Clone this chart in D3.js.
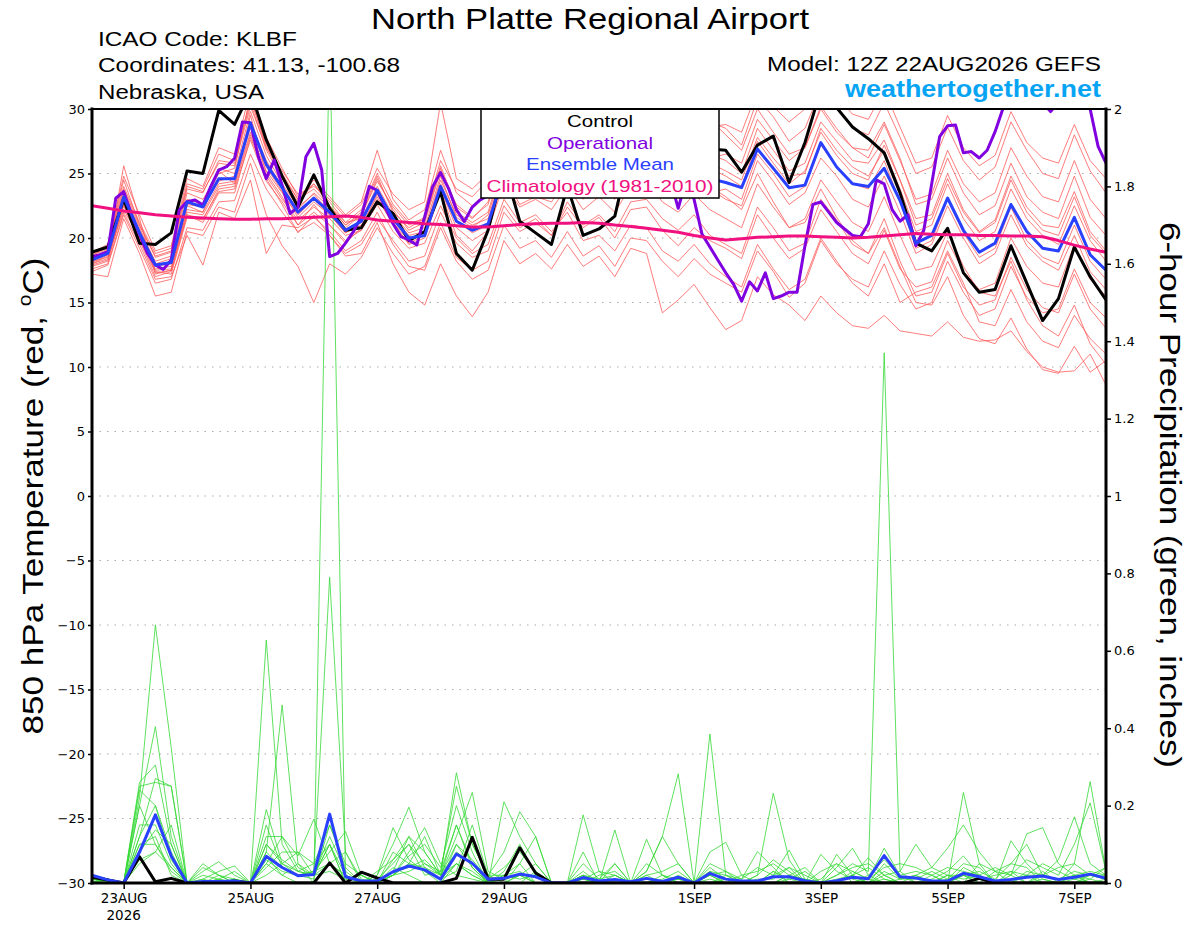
<!DOCTYPE html>
<html>
<head>
<meta charset="utf-8">
<script src="https://cdn.jsdelivr.net/npm/d3@7"></script>
<style>
  body { margin: 0; background: #fff; }
  svg { font-family: "Liberation Sans", Arial, sans-serif; }
</style>
</head>
<body>
<div id="svgcontainer"></div>
<script>
var stationTitle = "North Platte Regional Airport";
var infoLines = ["ICAO Code: KLBF", "Coordinates: 41.13, -100.68", "Nebraska, USA"];
var modelLine = "Model: 12Z 22AUG2026 GEFS";
var legendLabels = ["Control", "Operational", "Ensemble Mean", "Climatology (1981-2010)"];

var tempTicks = [-30, -25, -20, -15, -10, -5, 0, 5, 10, 15, 20, 25, 30];
var precipTicks = [0, 0.2, 0.4, 0.6, 0.8, 1, 1.2, 1.4, 1.6, 1.8, 2];
var dayTicks = ["2026-08-23", "2026-08-25", "2026-08-27", "2026-08-29", "2026-09-01", "2026-09-03", "2026-09-05", "2026-09-07"];
var dayLabels = ["23AUG", "25AUG", "27AUG", "29AUG", "1SEP", "3SEP", "5SEP", "7SEP"];

// 6-hourly, 12Z 22AUG .. 12Z 7SEP (65 steps)
var controlTemp = [
  18.9, 19.3, 23.0, 19.6, 19.5, 20.4, 25.2, 25.0, 29.9, 28.8, 31.4, 27.6, 24.8,
  22.4, 24.9, 22.3, 20.6, 20.8, 22.8, 21.9, 19.8, 20.5, 23.6, 18.8, 17.5, 20.6,
  25.5, 21.3, 20.4, 19.5, 24.0, 20.2, 20.7, 21.7, 27.0, 29.0, 28.0, 27.5, 26.9,
  26.9, 26.8, 25.1, 27.2, 27.9, 24.3, 27.4, 31.5, 30.1, 28.6, 27.7, 26.6, 23.5,
  19.6, 19.0, 20.75, 17.3, 15.8, 16.0, 19.4, 16.5, 13.6, 15.3, 19.3, 17.0, 15.2
];
var meanTemp = [
  18.3, 18.8, 23.2, 20.4, 17.9, 18.1, 22.8, 22.4, 24.6, 24.6, 28.9, 25.7, 23.9,
  22.0, 23.1, 22.0, 20.6, 21.3, 23.7, 21.5, 20.0, 20.2, 24.0, 21.3, 20.6, 21.1,
  25.0, 23.5, 24.5, 23.8, 25.5, 24.2, 24.8, 24.5, 26.0, 26.5, 25.5, 25.0, 25.2,
  24.6, 24.3, 23.9, 26.9, 25.4, 23.9, 24.1, 27.4, 25.5, 24.2, 24.0, 25.4, 22.9,
  19.6, 20.2, 23.1, 20.6, 18.9, 19.6, 22.6, 20.5, 19.2, 19.0, 21.6, 18.7, 17.5
];
var climoTemp = [
  22.5, 22.3, 22.1, 21.95, 21.8, 21.7, 21.6, 21.55, 21.5, 21.45, 21.45, 21.5, 21.5,
  21.55, 21.6, 21.65, 21.7, 21.6, 21.4, 21.3, 21.2, 21.1, 21.05, 20.95, 20.85, 20.85,
  20.95, 21.05, 21.1, 21.15, 21.15, 21.2, 21.15, 21.0, 20.9, 20.75, 20.6, 20.45, 20.2,
  20.0, 19.85, 19.95, 20.05, 20.1, 20.15, 20.15, 20.1, 20.05, 20.0, 20.05, 20.15, 20.25,
  20.35, 20.3, 20.25, 20.25, 20.2, 20.2, 20.15, 20.15, 20.1, 19.8, 19.45, 19.15, 18.9
];
// operational run, 3-hourly (129 steps)
var operTemp = [
  18.55, 18.7, 18.94, 23.08, 23.59, 21.8, 20.3, 18.81, 17.91, 17.57, 18.3, 22.17, 22.82,
  22.95, 22.56, 24.0, 25.27, 25.53, 26.18, 29.0, 28.94, 26.3, 24.6, 26.05, 24.1, 21.9,
  22.4, 26.3, 27.34, 25.27, 18.55, 18.8, 19.6, 20.5, 21.65, 24.0, 23.7, 22.4, 21.1,
  20.1, 19.85, 19.46, 21.65, 23.98, 25.07, 23.85, 22.2, 21.27, 22.4, 22.95, 23.3, 24.5,
  27.5, 30.2, 29.5, 28.0, 27.5, 26.5, 27.0, 26.0, 25.5, 26.5, 27.0, 26.0, 27.5,
  28.5, 29.5, 30.2, 29.5, 28.0, 27.0, 26.0, 25.5, 24.5, 22.3, 24.5, 23.0, 20.3,
  19.3, 18.3, 17.3, 16.4, 15.1, 16.6, 15.9, 17.3, 15.3, 15.5, 15.8, 15.8, 19.4,
  22.6, 22.8, 22.0, 21.2, 20.7, 20.2, 20.1, 21.1, 24.5, 24.2, 22.2, 21.3, 21.8,
  19.4, 20.6, 24.2, 27.85, 28.7, 28.76, 26.6, 26.7, 26.2, 26.8, 28.24, 30.05, 31.5,
  32.0, 31.5, 31.0, 30.5, 29.8, 30.5, 31.0, 31.5, 31.0, 30.0, 27.1, 25.8
];

var memberTemps = [
  [18.8, 19.2, 24.5, 21.0, 18.5, 18.9, 23.8, 23.5, 26.0, 25.8, 30.5, 26.8, 24.6,
   22.8, 24.2, 22.5, 21.0, 22.0, 24.8, 22.0, 20.8, 21.5, 25.6, 22.4, 21.5, 22.8,
   26.8, 25.0, 26.2, 25.4, 27.8, 26.0, 27.2, 26.5, 28.5, 28.8, 27.2, 27.0, 27.8,
   26.5, 26.0, 25.0, 28.5, 26.8, 25.2, 25.8, 29.0, 27.5, 26.0, 25.8, 27.6, 24.5,
   21.5, 21.8, 25.0, 22.2, 20.5, 21.4, 24.8, 22.4, 21.0, 20.8, 23.6, 20.5, 19.0],
  [17.4, 17.9, 21.8, 19.2, 16.5, 16.8, 20.8, 20.6, 22.8, 22.9, 26.5, 23.8, 22.0,
   20.5, 21.2, 20.2, 18.8, 19.5, 21.5, 19.8, 18.2, 18.6, 22.0, 19.6, 18.5, 19.0,
   22.5, 20.8, 21.5, 20.2, 22.8, 21.0, 21.8, 20.5, 22.8, 23.0, 21.5, 20.6, 21.8,
   20.2, 19.5, 18.8, 22.4, 20.8, 19.0, 19.6, 23.0, 21.4, 19.5, 18.8, 21.5, 18.2,
   15.5, 15.8, 18.8, 16.2, 14.8, 15.2, 18.5, 16.0, 14.6, 14.2, 17.2, 14.5, 13.0],
  [18.0, 18.6, 25.6, 21.5, 17.2, 17.5, 22.5, 22.0, 25.2, 24.2, 29.5, 25.0, 23.2,
   21.0, 22.6, 21.0, 19.6, 20.8, 23.4, 21.2, 19.5, 20.0, 23.6, 20.2, 19.0, 20.5,
   24.8, 22.6, 23.2, 22.8, 24.6, 23.0, 24.5, 23.6, 25.8, 26.4, 24.2, 23.4, 24.6,
   23.8, 23.0, 22.5, 26.0, 24.4, 22.6, 23.5, 26.2, 24.8, 23.0, 22.4, 24.8, 22.0,
   18.8, 19.5, 22.5, 20.0, 18.0, 18.8, 21.8, 19.4, 18.2, 17.5, 20.2, 17.4, 16.0],
  [18.5, 19.0, 23.0, 20.6, 18.2, 18.6, 23.5, 23.0, 25.0, 25.4, 31.0, 27.0, 24.8,
   23.0, 24.5, 23.2, 21.8, 22.8, 26.8, 23.0, 21.4, 22.2, 26.8, 23.5, 22.5, 23.6,
   28.5, 26.4, 27.0, 27.5, 30.5, 28.0, 29.0, 28.2, 31.0, 31.5, 29.5, 29.0, 30.2,
   29.0, 28.5, 27.2, 30.8, 29.4, 27.5, 28.5, 31.5, 30.2, 28.5, 28.0, 30.5, 27.8,
   25.0, 25.5, 28.6, 26.0, 24.5, 25.5, 29.0, 26.8, 25.0, 24.6, 28.0, 25.2, 23.5],
  [17.8, 18.2, 22.5, 19.8, 17.0, 17.4, 21.8, 21.2, 23.5, 23.5, 27.8, 24.8, 23.0,
   21.4, 22.4, 21.5, 20.2, 20.6, 22.6, 20.5, 19.2, 19.6, 22.5, 20.0, 18.8, 19.5,
   23.0, 21.2, 21.8, 20.5, 22.0, 19.8, 20.2, 19.0, 21.0, 20.8, 19.0, 18.2, 19.5,
   18.0, 17.0, 16.2, 19.5, 17.6, 16.0, 16.8, 20.0, 18.2, 16.5, 15.5, 18.0, 15.0,
   15.8, 16.2, 19.0, 16.5, 13.5, 13.2, 16.0, 13.5, 12.0, 11.5, 14.0, 12.2, 11.0],
  [18.2, 18.5, 22.2, 20.0, 17.6, 17.8, 22.0, 21.8, 24.0, 24.2, 28.2, 25.2, 23.5,
   21.8, 23.0, 21.8, 20.4, 21.2, 23.8, 21.6, 20.2, 20.5, 24.5, 21.8, 21.0, 21.5,
   25.5, 24.2, 25.0, 24.5, 26.8, 25.5, 26.5, 25.8, 27.5, 28.0, 26.5, 25.8, 26.8,
   25.8, 25.2, 24.5, 27.8, 26.2, 24.8, 25.0, 28.5, 26.8, 25.5, 24.8, 26.8, 23.8,
   20.5, 21.0, 24.2, 21.5, 19.8, 20.5, 23.8, 21.5, 20.2, 19.5, 22.5, 19.8, 18.2],
  [18.6, 19.4, 24.0, 21.2, 18.8, 19.2, 24.2, 23.8, 26.5, 26.0, 30.8, 27.2, 25.0,
   23.0, 23.8, 22.5, 21.2, 21.5, 24.0, 21.8, 20.4, 20.8, 24.8, 21.6, 20.8, 21.8,
   25.8, 23.6, 24.4, 23.5, 25.2, 23.5, 24.0, 23.0, 25.5, 25.8, 24.0, 23.2, 24.5,
   23.5, 23.8, 23.0, 26.5, 25.0, 23.2, 24.0, 27.2, 25.5, 24.2, 23.8, 26.0, 22.8,
   19.2, 19.8, 23.0, 20.4, 18.5, 19.2, 22.4, 19.8, 18.5, 18.0, 21.0, 18.2, 16.8],
  [18.0, 18.4, 22.8, 20.2, 17.8, 18.0, 22.6, 22.4, 24.4, 24.8, 29.0, 26.0, 24.0,
   22.2, 23.5, 22.4, 21.0, 21.8, 24.4, 22.4, 21.0, 21.6, 26.0, 23.8, 23.2, 24.5,
   29.0, 27.8, 29.2, 28.5, 31.0, 29.2, 30.0, 29.5, 31.5, 31.8, 30.2, 29.5, 30.5,
   29.2, 28.0, 26.8, 30.0, 28.2, 26.5, 27.0, 30.2, 28.5, 27.0, 26.2, 28.8, 26.0,
   23.0, 23.4, 26.8, 24.2, 22.8, 23.5, 27.0, 24.8, 23.2, 22.8, 26.0, 23.0, 21.5],
  [17.6, 18.0, 22.0, 19.5, 16.8, 17.0, 20.2, 17.9, 22.0, 21.5, 24.5, 18.8, 21.0,
   20.8, 21.6, 20.5, 19.0, 19.8, 22.0, 19.5, 17.8, 17.5, 20.8, 18.2, 16.8, 17.5,
   21.0, 19.2, 19.8, 18.5, 20.5, 18.6, 19.4, 17.8, 20.0, 19.8, 18.2, 17.0, 18.4,
   17.2, 16.5, 15.8, 19.0, 17.4, 15.4, 16.5, 19.8, 18.0, 16.8, 16.2, 19.0, 16.4,
   14.5, 15.0, 18.2, 15.8, 14.0, 14.5, 17.8, 15.4, 14.2, 14.5, 17.6, 15.0, 13.8],
  [18.4, 18.8, 23.6, 20.8, 18.0, 18.4, 23.0, 22.6, 25.4, 25.0, 29.8, 26.4, 24.2,
   22.4, 23.4, 22.0, 20.8, 21.8, 24.6, 22.2, 20.6, 21.2, 25.2, 22.6, 21.6, 22.6,
   26.4, 24.8, 25.6, 25.2, 27.2, 25.8, 26.8, 26.2, 28.0, 28.6, 27.0, 26.4, 27.2,
   26.2, 26.5, 25.8, 29.2, 27.6, 26.0, 27.0, 30.0, 28.2, 27.0, 26.8, 29.0, 26.2,
   22.6, 23.0, 26.2, 23.5, 21.8, 22.5, 25.8, 23.2, 22.0, 21.5, 24.8, 21.6, 20.2],
  [18.1, 18.7, 23.2, 20.5, 17.5, 17.6, 22.2, 22.0, 24.2, 24.4, 28.6, 25.5, 23.6,
   21.6, 22.8, 21.8, 20.4, 21.0, 23.2, 21.0, 19.6, 20.2, 23.8, 20.8, 19.8, 20.6,
   24.2, 22.4, 23.0, 22.2, 24.0, 22.2, 23.2, 22.0, 24.0, 24.5, 22.8, 22.0, 23.4,
   22.2, 21.5, 20.8, 24.2, 22.4, 20.8, 21.5, 24.5, 22.8, 21.2, 20.5, 23.2, 20.2,
   17.5, 17.8, 20.5, 17.8, 15.8, 15.5, 18.2, 15.2, 13.2, 12.4, 14.8, 11.8, 10.2],
  [18.9, 19.5, 24.8, 21.8, 19.0, 19.4, 24.6, 24.0, 27.0, 26.5, 31.5, 27.8, 25.4,
   23.2, 24.2, 22.8, 21.2, 22.2, 25.0, 22.6, 21.2, 21.4, 25.4, 22.0, 21.2, 22.0,
   26.2, 24.0, 25.2, 24.8, 27.0, 25.0, 26.0, 25.2, 27.0, 27.4, 25.6, 25.0, 26.4,
   25.4, 24.8, 24.0, 27.5, 25.8, 24.2, 25.2, 28.2, 26.4, 25.0, 24.5, 27.2, 24.5,
   21.0, 21.5, 24.6, 22.0, 20.4, 21.2, 24.5, 22.0, 20.6, 20.2, 23.2, 20.2, 18.8],
  [17.2, 17.0, 21.5, 18.8, 15.5, 15.8, 20.5, 20.2, 22.4, 22.0, 25.8, 21.8, 19.4,
   17.8, 15.0, 18.0, 17.2, 18.5, 20.8, 18.8, 17.2, 17.8, 21.2, 18.5, 17.5, 18.2,
   22.0, 20.5, 21.2, 20.2, 22.4, 20.8, 21.6, 20.0, 22.2, 22.4, 20.6, 19.4, 20.8,
   19.8, 19.2, 18.4, 21.8, 20.0, 18.4, 19.2, 22.2, 20.5, 18.8, 18.0, 20.6, 17.6,
   16.2, 16.6, 19.8, 17.4, 16.0, 16.5, 20.0, 17.8, 16.5, 16.2, 19.5, 16.8, 15.5],
  [18.3, 18.9, 23.4, 20.2, 17.4, 17.2, 21.6, 21.4, 23.8, 24.0, 28.0, 24.6, 22.6,
   20.4, 21.8, 20.2, 18.6, 18.8, 21.2, 18.0, 15.8, 14.8, 18.0, 15.5, 13.9, 15.8,
   19.8, 18.0, 18.8, 17.6, 19.5, 17.8, 18.6, 17.0, 19.2, 18.8, 14.2, 15.2, 16.4,
   14.6, 12.9, 13.6, 17.0, 15.6, 14.8, 13.6, 15.5, 14.2, 13.2, 13.0, 14.0, 12.8,
   12.6, 12.4, 13.5, 12.3, 12.0, 12.1, 12.8, 11.2, 10.0, 9.6, 9.7, 11.0, 8.6],
  [18.7, 19.1, 23.8, 21.0, 18.6, 19.0, 24.0, 23.6, 25.8, 25.6, 30.2, 27.0, 25.2,
   23.4, 24.0, 23.0, 21.6, 22.6, 25.4, 23.4, 22.2, 22.8, 30.5, 24.6, 23.8, 25.0,
   28.8, 27.0, 27.8, 26.8, 28.6, 27.0, 28.0, 27.4, 29.8, 30.4, 28.8, 28.4, 29.6,
   28.6, 28.8, 28.2, 31.4, 30.2, 29.0, 30.0, 32.5, 31.0, 29.6, 29.2, 31.5, 28.6,
   25.8, 26.2, 29.5, 27.0, 25.6, 26.4, 29.8, 27.4, 26.2, 25.8, 28.8, 26.0, 24.6],
  [17.9, 18.3, 22.6, 19.9, 17.3, 17.5, 21.8, 21.5, 23.6, 23.8, 27.6, 24.4, 22.8,
   21.0, 22.0, 21.0, 19.8, 20.6, 23.0, 21.2, 19.8, 20.4, 24.2, 21.4, 20.4, 21.0,
   25.0, 23.2, 24.0, 23.4, 25.6, 24.0, 25.0, 24.2, 26.2, 26.8, 25.0, 24.4, 25.2,
   24.0, 23.2, 22.2, 25.0, 22.8, 20.8, 21.2, 23.8, 21.6, 19.8, 18.8, 20.8, 17.8,
   15.0, 14.8, 17.0, 14.0, 12.2, 11.8, 13.8, 11.4, 9.8, 9.5, 11.6, 9.6, 10.5]
];

var controlPrecip = [
  0.015, 0.008, 0, 0.068, 0.003, 0.012, 0, 0, 0, 0.005, 0, 0, 0,
  0, 0, 0.052, 0, 0.028, 0.013, 0, 0, 0, 0, 0.012, 0.118, 0.01,
  0.01, 0.091, 0.026, 0, 0, 0, 0, 0, 0, 0, 0, 0, 0,
  0, 0, 0, 0, 0, 0, 0, 0, 0, 0, 0, 0, 0,
  0, 0, 0, 0, 0.012, 0, 0, 0, 0, 0, 0, 0, 0
];
var meanPrecip = [
  0.02, 0.008, 0, 0.08, 0.176, 0.07, 0, 0.004, 0.004, 0.005, 0, 0.069, 0.04,
  0.019, 0.022, 0.178, 0.016, 0.005, 0.005, 0.029, 0.044, 0.034, 0.01, 0.075, 0.051, 0.01,
  0.012, 0.023, 0.016, 0, 0, 0.014, 0.005, 0.009, 0.003, 0.012, 0.004, 0.015, 0,
  0.025, 0.01, 0.005, 0.005, 0.016, 0.016, 0.006, 0, 0.006, 0.015, 0.011, 0.071, 0.016,
  0.013, 0.005, 0.005, 0.025, 0.016, 0.005, 0.009, 0.015, 0.018, 0.009, 0.015, 0.023, 0.012
];
var memberPrecips = [
  [0.02, 0.01, 0, 0.22, 0.667, 0.35, 0, 0, 0, 0, 0, 0.05, 0.02,
   0, 0, 2.2, 0.02, 0, 0, 0.02, 0.05, 0.03, 0, 0.1, 0.04, 0,
   0, 0.02, 0, 0, 0, 0, 0, 0, 0, 0, 0, 0.01, 0,
   0.02, 0, 0, 0, 0, 0, 0, 0, 0, 0.02, 0, 0.01, 0,
   0, 0, 0, 0.02, 0, 0, 0, 0, 0.01, 0, 0, 0, 0],
  [0.01, 0.005, 0, 0.2, 0.404, 0.12, 0, 0, 0.01, 0, 0, 0.628, 0.1,
   0.03, 0.02, 0.1, 0, 0, 0.03, 0.06, 0.1, 0.05, 0.02, 0.285, 0.1, 0.02,
   0, 0, 0.03, 0, 0, 0.01, 0, 0, 0, 0, 0, 0, 0,
   0, 0, 0, 0, 0.03, 0, 0, 0, 0, 0, 0.01, 0.09, 0.02,
   0, 0, 0, 0, 0.01, 0, 0, 0.02, 0, 0, 0, 0.01, 0],
  [0.015, 0.005, 0, 0.26, 0.305, 0.1, 0, 0, 0, 0, 0, 0.08, 0.46,
   0.05, 0, 0.05, 0.02, 0, 0, 0.04, 0.02, 0, 0, 0.05, 0.02, 0,
   0.03, 0.1, 0.02, 0, 0, 0.02, 0, 0, 0, 0, 0.01, 0.03, 0,
   0.385, 0.02, 0, 0, 0, 0.02, 0.01, 0, 0, 0.03, 0.01, 0, 0.01,
   0.02, 0, 0, 0.234, 0.05, 0, 0.02, 0, 0, 0, 0.01, 0, 0],
  [0.01, 0.005, 0, 0.25, 0.26, 0.25, 0, 0, 0, 0, 0, 0.02, 0.05,
   0.02, 0.03, 0.79, 0.08, 0, 0, 0.02, 0.08, 0.143, 0.05, 0.02, 0.01, 0,
   0, 0, 0, 0, 0, 0, 0, 0, 0, 0, 0, 0, 0,
   0, 0.01, 0, 0, 0.02, 0.04, 0, 0, 0.02, 0.05, 0.03, 1.37, 0.03,
   0, 0, 0, 0.04, 0.02, 0, 0, 0, 0.03, 0, 0, 0.02, 0.01],
  [0.02, 0.01, 0, 0.24, 0.2, 0.06, 0, 0.05, 0.02, 0, 0, 0.19, 0.05,
   0.08, 0.05, 0.15, 0.04, 0, 0.02, 0.1, 0.196, 0.08, 0.02, 0.15, 0.05, 0,
   0.02, 0.05, 0, 0, 0, 0.03, 0, 0.02, 0, 0.03, 0.12, 0.282, 0,
   0.02, 0, 0, 0, 0.03, 0.01, 0, 0, 0, 0, 0, 0, 0,
   0, 0.02, 0, 0, 0, 0.03, 0.05, 0.04, 0, 0, 0.05, 0.262, 0.03],
  [0.01, 0.005, 0, 0.15, 0.15, 0.05, 0, 0, 0, 0.01, 0, 0.05, 0.12,
   0.07, 0.165, 0.05, 0.02, 0, 0, 0.03, 0.12, 0.04, 0.02, 0.08, 0.05, 0,
   0.21, 0.12, 0.05, 0, 0, 0.01, 0, 0, 0, 0, 0, 0, 0,
   0, 0.02, 0, 0.02, 0.232, 0.06, 0, 0, 0.01, 0.02, 0, 0.05, 0.01,
   0.02, 0.04, 0.09, 0.15, 0.08, 0.03, 0, 0, 0, 0, 0.02, 0, 0],
  [0.005, 0, 0, 0.1, 0.12, 0.02, 0, 0.03, 0.055, 0.02, 0, 0.1, 0.06,
   0.03, 0.02, 0.1, 0, 0, 0.01, 0.05, 0.1, 0.02, 0.03, 0.25, 0.1, 0.02,
   0.08, 0.184, 0.12, 0, 0, 0.176, 0.03, 0, 0, 0.02, 0, 0, 0,
   0, 0, 0, 0, 0, 0, 0, 0.03, 0.05, 0, 0, 0.02, 0,
   0, 0, 0.01, 0.05, 0.04, 0, 0.03, 0, 0.02, 0.06, 0.171, 0.05, 0.02],
  [0.01, 0.005, 0, 0.2, 0.1, 0.04, 0, 0.01, 0.03, 0.044, 0, 0.08, 0.04,
   0.02, 0.03, 0.08, 0.133, 0.02, 0, 0.03, 0.04, 0.06, 0.02, 0.12, 0.234, 0.03,
   0.01, 0.02, 0, 0, 0, 0.02, 0, 0.137, 0, 0.113, 0.02, 0.01, 0,
   0.02, 0.03, 0, 0, 0, 0.02, 0.04, 0, 0, 0, 0.02, 0, 0,
   0, 0, 0.02, 0, 0.05, 0.03, 0.02, 0.127, 0.143, 0.05, 0.02, 0.01, 0.04],
  [0.02, 0.01, 0, 0.12, 0.27, 0.25, 0, 0, 0, 0, 0, 0.12, 0.12,
   0.04, 0.02, 0.12, 0.03, 0, 0.02, 0.143, 0.06, 0.03, 0.01, 0.05, 0.03, 0,
   0, 0.05, 0.12, 0, 0, 0, 0.02, 0.03, 0, 0, 0, 0.02, 0,
   0.08, 0.105, 0.02, 0, 0, 0.01, 0.03, 0, 0.074, 0.02, 0.065, 0.02, 0.03,
   0.1, 0.04, 0.02, 0.02, 0, 0, 0.109, 0.05, 0.01, 0, 0.02, 0, 0.01],
  [0.015, 0.005, 0, 0.12, 0.2, 0.08, 0, 0.02, 0.01, 0, 0, 0.06, 0.03,
   0.02, 0.01, 0.15, 0.05, 0.02, 0, 0.02, 0.07, 0.1, 0.04, 0.2, 0.08, 0,
   0, 0.02, 0.05, 0, 0, 0.05, 0.01, 0.05, 0, 0.03, 0.12, 0.05, 0,
   0.05, 0.03, 0.01, 0.04, 0.02, 0.085, 0.01, 0, 0.04, 0.09, 0.02, 0.06, 0.02,
   0.03, 0.02, 0.04, 0.03, 0.02, 0.04, 0.02, 0.06, 0.04, 0.02, 0.1, 0.207, 0.03],
  [0.01, 0, 0, 0.08, 0.137, 0.1, 0, 0.01, 0, 0.01, 0, 0.04, 0.08,
   0.08, 0.02, 0.05, 0.08, 0.01, 0, 0.02, 0.05, 0.04, 0.01, 0.03, 0.15, 0.02,
   0.02, 0.03, 0, 0, 0, 0.01, 0.03, 0.02, 0, 0.05, 0.02, 0, 0,
   0.03, 0.02, 0.01, 0.081, 0.04, 0, 0, 0.074, 0.03, 0.01, 0, 0.03, 0.01,
   0.01, 0.03, 0.01, 0.02, 0.03, 0.01, 0.05, 0.1, 0.02, 0.01, 0.03, 0.02, 0.01],
  [0.02, 0.01, 0, 0.05, 0.08, 0.04, 0, 0.04, 0.02, 0, 0, 0.15, 0.04,
   0.02, 0.03, 0.05, 0.01, 0, 0, 0.06, 0.12, 0.08, 0.02, 0.1, 0.06, 0.01,
   0.04, 0.08, 0.03, 0, 0, 0.08, 0, 0.05, 0, 0.01, 0, 0.01, 0,
   0.01, 0, 0.02, 0.03, 0.05, 0.02, 0, 0, 0.02, 0.04, 0.05, 0.02, 0,
   0, 0.01, 0.03, 0.07, 0.02, 0, 0, 0.03, 0.02, 0.04, 0.05, 0.02, 0.04],
  [0.005, 0, 0, 0.1, 0.1, 0.03, 0, 0, 0.01, 0.03, 0, 0.1, 0.05,
   0.03, 0.05, 0.1, 0.02, 0, 0.01, 0.02, 0.03, 0.05, 0.03, 0.15, 0.04, 0,
   0.02, 0.01, 0.02, 0, 0, 0.02, 0.01, 0.02, 0, 0.02, 0.03, 0.05, 0,
   0.04, 0.01, 0, 0.02, 0.06, 0.03, 0, 0.01, 0.05, 0.03, 0.01, 0.04, 0.05,
   0.04, 0.02, 0, 0.02, 0.01, 0.02, 0.03, 0.02, 0.05, 0.03, 0.01, 0.02, 0.02],
  [0.01, 0.005, 0, 0.06, 0.08, 0.15, 0, 0, 0.02, 0.01, 0, 0.07, 0.02,
   0.05, 0.02, 0.03, 0.01, 0.02, 0, 0.08, 0.05, 0.12, 0.02, 0.05, 0.02, 0,
   0.01, 0.02, 0.02, 0, 0, 0.02, 0, 0.01, 0, 0, 0.02, 0, 0,
   0.03, 0, 0, 0.01, 0.01, 0.04, 0.02, 0, 0, 0.02, 0.04, 0.01, 0,
   0.02, 0, 0.02, 0.01, 0.02, 0, 0.01, 0.02, 0.02, 0.01, 0.02, 0.03, 0.02]
];

// ---- drawing ----
var width = 1200;
var height = 927;
var plotLeft = 92, plotRight = 1106, plotTop = 109, plotBottom = 883;
var tickFont = "'DejaVu Sans', sans-serif";

var startTime = new Date(Date.UTC(2026, 7, 22, 12));
var endTime = new Date(Date.UTC(2026, 8, 7, 12));

var x = d3.scaleUtc().domain([startTime, endTime]).range([plotLeft, plotRight]);
var yTemp = d3.scaleLinear().domain([-30, 30]).range([plotBottom, plotTop]);
var yPrecip = d3.scaleLinear().domain([0, 2]).range([plotBottom, plotTop]);

function stepTime(hours) {
   return function (i) { return d3.utcHour.offset(startTime, i * hours); };
}
var at6 = stepTime(6), at3 = stepTime(3);

var svg = d3.select("#svgcontainer")
   .append("svg")
   .attr("width", width)
   .attr("height", height);

svg.append("defs").append("clipPath")
   .attr("id", "plotclip")
   .append("rect")
   .attr("x", plotLeft).attr("y", plotTop)
   .attr("width", plotRight - plotLeft).attr("height", plotBottom - plotTop);

// gridlines
svg.append("g")
   .selectAll("line")
   .data(tempTicks.filter(function (d) { return d > -30 && d < 30; }))
   .enter().append("line")
   .attr("x1", plotLeft).attr("x2", plotRight)
   .attr("y1", function (d) { return yTemp(d); })
   .attr("y2", function (d) { return yTemp(d); })
   .attr("stroke", "#aaaaaa")
   .attr("stroke-width", 1.2)
   .attr("stroke-dasharray", "1.5,6");

var plot = svg.append("g").attr("clip-path", "url(#plotclip)");

var tempLine = d3.line()
   .x(function (d, i) { return x(at6(i)); })
   .y(function (d) { return yTemp(d); });
var operLine = d3.line()
   .x(function (d, i) { return x(at3(i)); })
   .y(function (d) { return yTemp(d); });
var precipLine = d3.line()
   .x(function (d, i) { return x(at6(i)); })
   .y(function (d) { return yPrecip(d); });

plot.selectAll(".member")
   .data(memberTemps)
   .enter().append("path")
   .attr("class", "member")
   .attr("d", tempLine)
   .attr("fill", "none")
   .attr("stroke", "#ff5a5a")
   .attr("stroke-width", 0.8);

plot.selectAll(".pmember")
   .data(memberPrecips)
   .enter().append("path")
   .attr("class", "pmember")
   .attr("d", precipLine)
   .attr("fill", "none")
   .attr("stroke", "#36d936")
   .attr("stroke-width", 0.8);

function thick(d, gen, color) {
   plot.append("path")
      .attr("d", gen(d))
      .attr("fill", "none")
      .attr("stroke", color)
      .attr("stroke-width", 3)
      .attr("stroke-linejoin", "round");
}

thick(controlPrecip, precipLine, "#000000");
thick(meanPrecip, precipLine, "#2a40ff");
thick(controlTemp, tempLine, "#000000");
thick(operTemp, operLine, "#8000e0");
thick(meanTemp, tempLine, "#2a40ff");
thick(climoTemp, tempLine, "#f0107f");

// text helper: size by cap height, width by the measured span
function label(parent, txt, xx, yy, size, len, anchor) {
   return parent.append("text")
      .attr("x", xx).attr("y", yy)
      .attr("font-size", size)
      .attr("text-anchor", anchor || "start")
      .attr("textLength", len)
      .attr("lengthAdjust", "spacingAndGlyphs")
      .text(txt);
}

// legend
var legend = svg.append("g");
legend.append("rect")
   .attr("x", 481).attr("y", plotTop)
   .attr("width", 238).attr("height", 89)
   .attr("fill", "#ffffff")
   .attr("stroke", "#000000")
   .attr("stroke-width", 1.5);
var legendColors = ["#000000", "#8000e0", "#2a40ff", "#f0107f"];
var legendWidths = [66, 106, 148, 227];
var legendBase = [127, 148.5, 170, 191.5];
legendLabels.forEach(function (d, i) {
   label(legend, d, 600, legendBase[i], 17, legendWidths[i], "middle")
      .attr("fill", legendColors[i]);
});

// axes
var leftAxis = svg.append("g")
   .attr("transform", "translate(" + plotLeft + ",0)")
   .call(d3.axisLeft(yTemp).tickValues(tempTicks).tickSize(4).tickPadding(3));
var rightAxis = svg.append("g")
   .attr("transform", "translate(" + plotRight + ",0)")
   .call(d3.axisRight(yPrecip).tickValues(precipTicks).tickSize(5).tickPadding(3)
      .tickFormat(function (d) { return String(+d.toFixed(1)); }));
var bottomAxis = svg.append("g")
   .attr("transform", "translate(0," + plotBottom + ")")
   .call(d3.axisBottom(x)
      .tickValues(dayTicks.map(function (d) { return new Date(d + "T00:00:00Z"); }))
      .tickSize(6).tickPadding(4)
      .tickFormat(function (d, i) { return dayLabels[i]; }));

[leftAxis, rightAxis, bottomAxis].forEach(function (g) {
   g.select(".domain").remove();
   g.selectAll(".tick line").attr("stroke", "#000").attr("stroke-width", 1.5);
   g.selectAll(".tick text")
      .attr("fill", "#000")
      .attr("font-family", tickFont)
      .attr("font-size", 13.5);
});
leftAxis.selectAll(".tick text").attr("font-size", 13);
rightAxis.selectAll(".tick text").attr("font-size", 13);

svg.append("text")
   .attr("x", x(new Date(dayTicks[0] + "T00:00:00Z")))
   .attr("y", 920)
   .attr("text-anchor", "middle")
   .attr("font-family", tickFont)
   .attr("font-size", 13.5)
   .text("2026");

// frame
var frame = svg.append("g").attr("stroke", "#000").attr("stroke-linecap", "square");
frame.append("line").attr("x1", plotLeft).attr("x2", plotRight).attr("y1", plotTop).attr("y2", plotTop).attr("stroke-width", 2);
frame.append("line").attr("x1", plotLeft).attr("x2", plotRight).attr("y1", plotBottom).attr("y2", plotBottom).attr("stroke-width", 3);
frame.append("line").attr("x1", plotLeft).attr("x2", plotLeft).attr("y1", plotTop).attr("y2", plotBottom).attr("stroke-width", 3);
frame.append("line").attr("x1", plotRight).attr("x2", plotRight).attr("y1", plotTop).attr("y2", plotBottom).attr("stroke-width", 3);

// titles
label(svg, stationTitle, 590, 29, 29, 438, "middle");

var infoWidths = [199, 302, 166];
var infoBase = [46, 72, 99];
infoLines.forEach(function (d, i) {
   label(svg, d, 98, infoBase[i], 20, infoWidths[i]);
});

label(svg, modelLine, 1101, 71, 20, 334, "end");
label(svg, "weathertogether.net", 1101, 97, 23, 256, "end")
   .attr("font-weight", "bold")
   .attr("fill", "#08a4f4");

var leftTitle = svg.append("text")
   .attr("transform", "translate(43,496) rotate(-90)")
   .attr("text-anchor", "middle")
   .attr("font-size", 30)
   .attr("textLength", 477)
   .attr("lengthAdjust", "spacingAndGlyphs")
   .text("850 hPa Temperature (red, ");
leftTitle.append("tspan").attr("font-size", 18).attr("dy", -12).text("o");
leftTitle.append("tspan").attr("dy", 12).text("C)");

svg.append("text")
   .attr("transform", "translate(1160,495) rotate(90)")
   .attr("text-anchor", "middle")
   .attr("font-size", 30)
   .attr("textLength", 546)
   .attr("lengthAdjust", "spacingAndGlyphs")
   .text("6-hour Precipitation (green, inches)");
</script>
</body>
</html>
